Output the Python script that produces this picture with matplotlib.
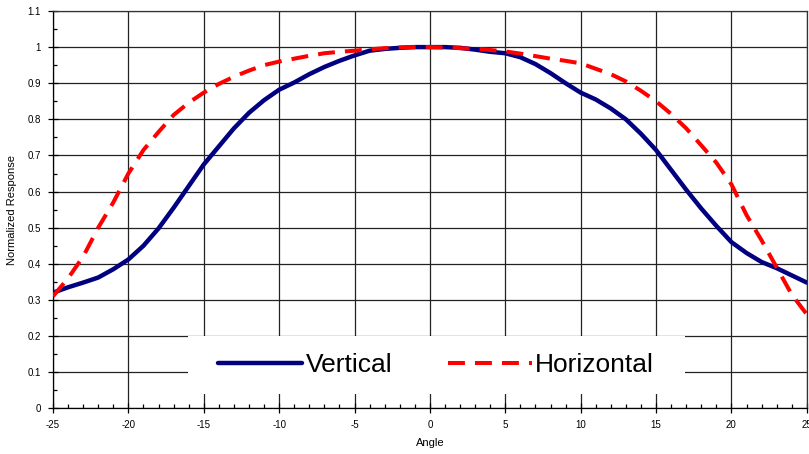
import matplotlib
matplotlib.use("Agg")
import matplotlib.pyplot as plt
from matplotlib.patches import Rectangle
from matplotlib.ticker import MultipleLocator, FuncFormatter

plt.rcParams['font.family'] = ['Liberation Sans', 'DejaVu Sans']
plt.rcParams['axes.unicode_minus'] = False

# donnees
angles = list(range(-25, 26))
vertical = [0.32, 0.335, 0.348, 0.362, 0.385, 0.412, 0.45, 0.498, 0.555, 0.615,
            0.675, 0.725, 0.775, 0.818, 0.853, 0.882, 0.902, 0.925, 0.945, 0.962,
            0.977, 0.99, 0.995, 0.998, 1.0, 1.0, 1.0, 0.998, 0.993, 0.987,
            0.983, 0.972, 0.953, 0.928, 0.9, 0.874, 0.855, 0.83, 0.8, 0.76,
            0.715, 0.66, 0.605, 0.553, 0.505, 0.46, 0.43, 0.405, 0.388, 0.368,
            0.348]
horizontal = [0.31, 0.36, 0.42, 0.5, 0.57, 0.65, 0.715, 0.765, 0.812, 0.846,
              0.874, 0.898, 0.918, 0.935, 0.95, 0.96, 0.968, 0.976, 0.983, 0.987,
              0.99, 0.994, 0.997, 0.999, 1.0, 1.0, 0.999, 0.997, 0.995, 0.992,
              0.988, 0.982, 0.975, 0.968, 0.962, 0.955, 0.94, 0.925, 0.905, 0.879,
              0.85, 0.815, 0.775, 0.728, 0.68, 0.62, 0.535, 0.465, 0.39, 0.315,
              0.26]

fig = plt.figure(figsize=(8.09, 4.54), dpi=100)
ax = fig.add_axes([0.0655, 0.1007, 0.9318, 0.8751])

ax.plot(angles, vertical, color='#000080', lw=3.2, label='Vertical',
        solid_capstyle='round', zorder=3)
ax.plot(angles, horizontal, color='#ff0000', lw=2.9, ls=(0, (4.2, 2.5)),
        label='Horizontal', zorder=3)

ax.set_xlim(-25, 25)
ax.set_ylim(0, 1.1)
ax.xaxis.set_major_locator(MultipleLocator(5))
ax.xaxis.set_minor_locator(MultipleLocator(1))
ax.yaxis.set_major_locator(MultipleLocator(0.1))
ax.yaxis.set_minor_locator(MultipleLocator(0.05))
ax.yaxis.set_major_formatter(FuncFormatter(lambda v, p: f"{v:.1f}".rstrip('0').rstrip('.') if v else "0"))

ax.grid(True, which='major', color='#222222', lw=0.9, zorder=1)
ax.set_axisbelow(True)
for s in ax.spines.values():
    s.set_color('#333333')
    s.set_linewidth(0.9)
ax.spines['left'].set_color('black')
ax.spines['bottom'].set_color('black')

ax.tick_params(which='major', direction='inout', length=7, width=0.9, labelsize=7, pad=5)
ax.tick_params(which='minor', direction='in', length=3, width=0.9)
ax.tick_params(top=False, right=False, which='both')

ax.set_xlabel('Angle', fontsize=8, labelpad=6)
ax.set_ylabel('Normalized Response', fontsize=8, labelpad=8)

# fond blanc de la legende (cache la grille)
ax.add_patch(Rectangle((0.179, 0.036), 0.659, 0.146, transform=ax.transAxes,
                       facecolor='white', edgecolor='none', zorder=2))

leg = ax.legend(loc='center', bbox_to_anchor=(0.508, 0.109), ncol=2, fontsize=19,
                frameon=False, handlelength=3.2, handletextpad=0.12,
                columnspacing=2.1, borderpad=0, borderaxespad=0)
leg.set_zorder(5)

fig.savefig('out.png', dpi=100)
